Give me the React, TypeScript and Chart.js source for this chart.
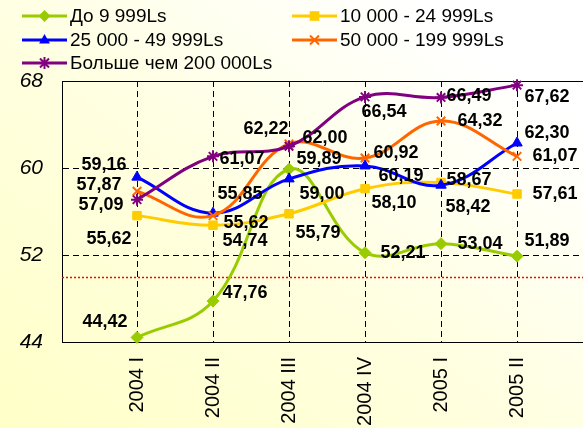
import React, { useEffect, useRef } from 'react';
import { Chart, registerables } from 'chart.js';

Chart.register(...registerables);

const categories = ['2004 I', '2004 II', '2004 III', '2004 IV', '2005 I', '2005 II'];
const seriesNames = ['До 9 999Ls', '10 000 - 24 999Ls', '25 000 - 49 999Ls', '50 000 - 199 999Ls', 'Больше чем 200 000Ls'];
const upTo9999 = [44.42, 47.76, 59.89, 52.21, 53.04, 51.89];
const from10000 = [55.62, 54.74, 55.79, 58.1, 58.67, 57.61];
const from25000 = [59.16, 55.85, 59.0, 60.19, 58.42, 62.3];
const from50000 = [57.87, 55.62, 62.22, 60.92, 64.32, 61.07];
const over200000 = [57.09, 61.07, 62.0, 66.54, 66.49, 67.62];
const yTickValues = [44, 52, 60, 68];
const referenceLevel = 50;

const seriesValues = [upTo9999, from10000, from25000, from50000, over200000];
const seriesColors = ['#99CC00', '#FFCC00', '#0000FF', '#FF6600', '#800080'];
const seriesMarkers = ['rectRot', 'rect', 'triangle', 'crossRot', 'star'];

// label placement (pixel offsets of label centre from the point)
const labelOffsets = [
  [[-32, -15], [32, -8], [30, -10], [38, 0], [39, 0], [30, -15]],
  [[-28, 23], [32, 16], [29, 19], [29, 14], [28, -2], [38, 0]],
  [[-33, -12], [27, -19], [33, 15], [36, 10], [27, 22], [30, -10]],
  [[-38, -6], [33, 7], [-23, -15], [31, -5], [39, 0], [38, 0]],
  [[-36, 5], [29, 3], [36, -8], [19, 15], [28, -1], [30, 12]],
];

const FONT = "'Liberation Sans', Arial, sans-serif";

function drawMarker(ctx: CanvasRenderingContext2D, style: string, x: number, y: number, r: number, color: string) {
  ctx.save();
  ctx.fillStyle = color;
  ctx.strokeStyle = color;
  ctx.lineWidth = 2;
  ctx.beginPath();
  if (style === 'rectRot') {
    ctx.moveTo(x, y - r); ctx.lineTo(x + r, y); ctx.lineTo(x, y + r); ctx.lineTo(x - r, y); ctx.closePath(); ctx.fill();
  } else if (style === 'rect') {
    ctx.rect(x - r * 0.8, y - r * 0.8, r * 1.6, r * 1.6); ctx.fill();
  } else if (style === 'triangle') {
    ctx.moveTo(x, y - r); ctx.lineTo(x + r * 0.9, y + r * 0.6); ctx.lineTo(x - r * 0.9, y + r * 0.6); ctx.closePath(); ctx.fill();
  } else if (style === 'crossRot') {
    const d = r * 0.75;
    ctx.moveTo(x - d, y - d); ctx.lineTo(x + d, y + d); ctx.moveTo(x + d, y - d); ctx.lineTo(x - d, y + d); ctx.stroke();
  } else {
    const d = r * 0.75;
    ctx.moveTo(x - d, y - d); ctx.lineTo(x + d, y + d); ctx.moveTo(x + d, y - d); ctx.lineTo(x - d, y + d);
    ctx.moveTo(x, y - r); ctx.lineTo(x, y + r); ctx.stroke();
  }
  ctx.restore();
}

const overlayPlugin = {
  id: 'overlay',
  beforeDatasetsDraw(chart: any) {
    const { ctx, chartArea, scales } = chart;
    ctx.save();
    ctx.strokeStyle = '#000';
    ctx.lineWidth = 1;
    ctx.beginPath();
    ctx.moveTo(chartArea.left, chartArea.top + 0.5);
    ctx.lineTo(chartArea.right, chartArea.top + 0.5);
    ctx.stroke();
    const yr = Math.round(scales.y.getPixelForValue(referenceLevel)) + 0.5;
    ctx.strokeStyle = '#FF0000';
    ctx.lineWidth = 1.5;
    ctx.setLineDash([2, 2]);
    ctx.beginPath();
    ctx.moveTo(chartArea.left, yr);
    ctx.lineTo(chartArea.right, yr);
    ctx.stroke();
    ctx.restore();
  },
  afterDatasetsDraw(chart: any) {
    const { ctx } = chart;
    ctx.save();
    ctx.font = `bold 18px ${FONT}`;
    ctx.fillStyle = '#000';
    ctx.textAlign = 'center';
    ctx.textBaseline = 'middle';
    seriesValues.forEach((vals, si) => {
      const meta = chart.getDatasetMeta(si);
      vals.forEach((v, i) => {
        const p = meta.data[i];
        const [dx, dy] = labelOffsets[si][i];
        ctx.fillText(v.toFixed(2).replace('.', ','), p.x + dx, p.y + dy);
      });
    });
    ctx.restore();
  },
  afterDraw(chart: any) {
    const { ctx } = chart;
    const colX = [22, 292];
    const rowY = [16, 40, 63];
    ctx.save();
    ctx.font = `19px ${FONT}`;
    ctx.textBaseline = 'middle';
    ctx.textAlign = 'left';
    seriesNames.forEach((name, i) => {
      const x = colX[i % 2];
      const y = rowY[Math.floor(i / 2)];
      ctx.strokeStyle = seriesColors[i];
      ctx.lineWidth = 3;
      ctx.beginPath();
      ctx.moveTo(x, y);
      ctx.lineTo(x + 45, y);
      ctx.stroke();
      drawMarker(ctx, seriesMarkers[i], x + 22.5, y, 6, seriesColors[i]);
      ctx.fillStyle = '#000';
      ctx.fillText(name, x + 48, y + 1);
    });
    ctx.restore();
  },
};

export default function App() {
  const canvasRef = useRef<HTMLCanvasElement | null>(null);

  useEffect(() => {
    if (!canvasRef.current) return;
    const chart = new Chart(canvasRef.current, {
      type: 'line',
      data: {
        datasets: seriesValues.map((vals, si) => ({
          label: seriesNames[si],
          data: vals.map((v, i) => ({ x: i, y: v })),
          borderColor: seriesColors[si],
          backgroundColor: seriesColors[si],
          borderWidth: 3,
          tension: 0.4,
          pointStyle: seriesMarkers[si] as any,
          pointRadius: 6,
          pointBorderWidth: si >= 3 ? 2 : 1,
          pointBackgroundColor: seriesColors[si],
          pointBorderColor: seriesColors[si],
          clip: false as any,
          order: 4 - si,
          fill: false,
        })),
      },
      options: {
        animation: false,
        responsive: false,
        events: [],
        layout: { autoPadding: false, padding: { top: 81, left: 0, right: 0, bottom: 0 } },
        plugins: { legend: { display: false }, tooltip: { enabled: false } },
        scales: {
          x: {
            type: 'linear',
            min: -0.987,
            max: 5.868,
            afterBuildTicks: (s: any) => {
              s.ticks = categories.map((_, i) => ({ value: i }));
            },
            afterFit: (s: any) => {
              s.height = 86;
              s.paddingLeft = 0;
              s.paddingRight = 0;
            },
            ticks: {
              autoSkip: false,
              minRotation: 90,
              maxRotation: 90,
              padding: 15,
              color: '#000',
              font: { size: 20, family: FONT },
              callback: (v: any) => categories[v] ?? '',
            },
            grid: { color: '#000', lineWidth: 1, drawTicks: false },
            border: { color: '#000', width: 1, dash: [6, 4] },
          },
          y: {
            min: 44,
            max: 68,
            afterBuildTicks: (s: any) => {
              s.ticks = yTickValues.map((v) => ({ value: v }));
            },
            afterFit: (s: any) => {
              s.width = 62;
              s.paddingTop = 0;
              s.paddingBottom = 0;
            },
            ticks: {
              padding: 19,
              color: '#000',
              font: { size: 21, style: 'italic', family: FONT },
            },
            grid: {
              drawTicks: false,
              lineWidth: 1,
              color: (c: any) => (c.tick && (c.tick.value === 44 || c.tick.value === 68) ? 'rgba(0,0,0,0)' : '#000'),
            },
            border: { color: '#000', width: 1, dash: [6, 4] },
          },
        },
      },
      plugins: [overlayPlugin],
    });
    return () => chart.destroy();
  }, []);

  return (
    <div
      style={{
        position: 'fixed',
        left: 0,
        top: 0,
        width: 583,
        height: 428,
        background: 'linear-gradient(to top right, #FFFFC8 0%, #FFFFE0 45%, #FFFFFF 85%)',
      }}
    >
      <canvas ref={canvasRef} width={583} height={428} style={{ display: 'block' }} />
    </div>
  );
}
